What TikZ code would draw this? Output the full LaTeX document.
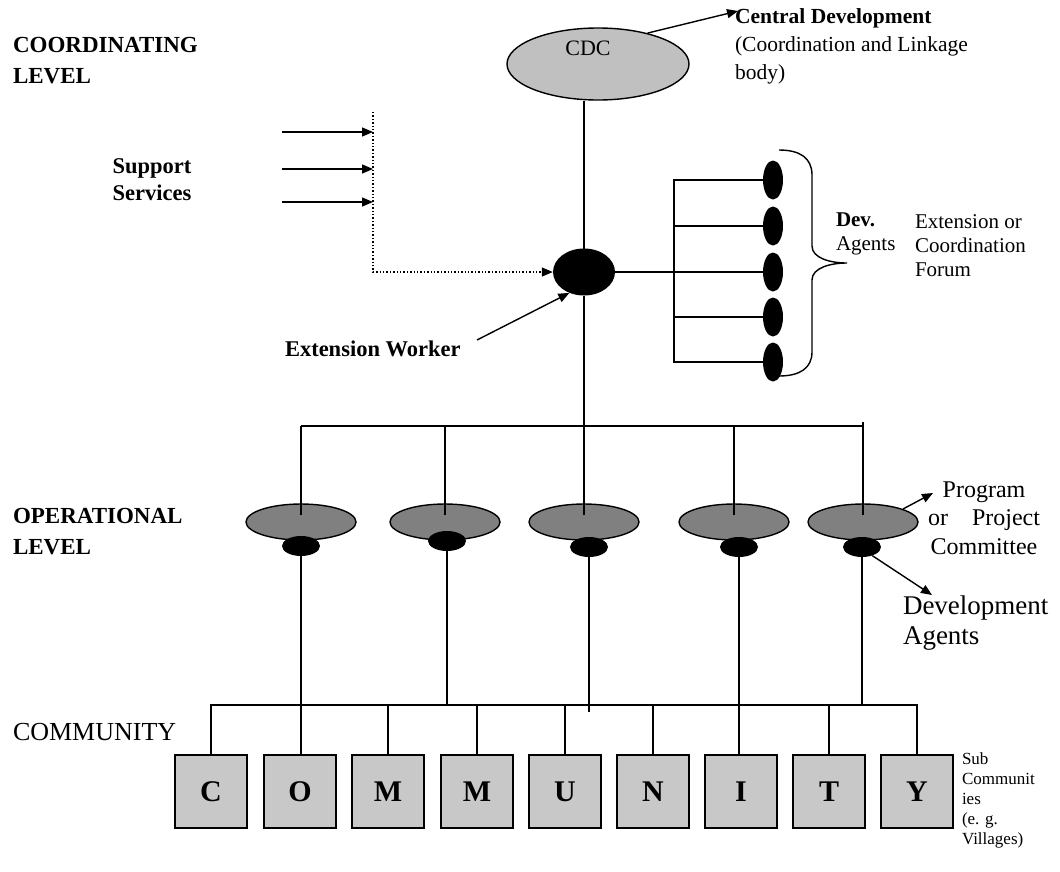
\documentclass[tikz,border=0pt]{standalone}
\usepackage{fontspec}
\setmainfont{Liberation Serif}
\usetikzlibrary{shapes.geometric,arrows.meta}
\definecolor{cdcgray}{RGB}{192,192,192}
\definecolor{opgray}{RGB}{128,128,128}
\definecolor{boxgray}{RGB}{200,200,200}
\newcommand{\fsz}[2]{\fontsize{#1}{#2}\selectfont}
\tikzset{
  ln/.style={line width=1.4pt},
  arr/.style={line width=1.4pt,-{Triangle[length=11pt,width=9pt]}},
  dotarr/.style={line width=1.4pt,dotted,-{Triangle[length=11pt,width=9pt]}},
  txt/.style={inner sep=0pt,outer sep=0pt,text=black},
  blackell/.style={ellipse,fill=black,inner sep=0pt},
  lvl/.style={txt,anchor=west,align=left,font=\bfseries\fsz{23}{31}},
}
\begin{document}
\begin{tikzpicture}[x=1pt,y=-1pt]
\path[use as bounding box] (0,0) rectangle (1060,871);
\fill[white] (0,0) rectangle (1060,871);

% ---------- coordinating level ----------
\node[lvl] (coordlvl) at (13,61) {COORDINATING\\LEVEL};

\node[ellipse,draw,ln,fill=cdcgray,minimum width=182pt,minimum height=72pt,inner sep=0pt] (cdc) at (598,64) {};
\node[txt,font=\fsz{22}{26}] (cdclbl) at (588,48) {CDC};
\node[txt,anchor=west,align=left,font=\fsz{21.5}{28}] (cdtext) at (735,46) {\textbf{Central Development}\\(Coordination and Linkage\\body)};
\coordinate (cdtip) at (738,11);
\draw[arr] (cdc.32) -- (cdtip);

% hub
\node[blackell,minimum width=62pt,minimum height=47pt] (hub) at (584,272) {};
\draw[ln] (hub.center) -- (hub.center |- cdc.south);

% support services
\node[txt,align=center,font=\bfseries\fsz{22.5}{27}] (support) at (152,180) {Support\\Services};
\foreach \i/\y in {1/132,2/169,3/202}{
  \coordinate (st\i) at (282,\y);
  \coordinate (sh\i) at (373,\y);
  \draw[arr] (st\i) -- (sh\i);
}
\coordinate (dtop) at (373,112);
\draw[dotarr] (dtop) |- (hub.west);

% extension worker
\node[txt,anchor=west,font=\bfseries\fsz{22.5}{27}] (ew) at (285,349) {Extension Worker};
\coordinate (ewtail) at (477,340);
\draw[arr] (ewtail) -- (hub.235);

% dev agents
\foreach \i/\y in {1/180,2/226,3/272,4/317,5/362}
  \node[blackell,minimum width=20pt,minimum height=39pt] (d\i) at (773,\y) {};
\coordinate (dv) at (674,0);
\draw[ln] (d1.west) -- (d1.west -| dv) -- (d5.west -| dv) -- (d5.west);
\draw[ln] (d2.west) -- (d2.west -| dv);
\draw[ln] (d4.west) -- (d4.west -| dv);
\draw[ln] (hub.east) -- (d3.west);
\draw[ln] (779,150) .. controls (800,150) and (812,158) .. (812,175) -- (812,246)
  .. controls (812,258) and (830,263) .. (847,263)
  .. controls (830,263) and (812,268) .. (812,280) -- (812,352)
  .. controls (812,368) and (800,376) .. (779,376);
\node[txt,anchor=west,align=left,font=\fsz{21}{24}] (devag) at (836,234) {\textbf{Dev.}\\Agents};
\node[txt,anchor=west,align=left,font=\fsz{21}{24}] (forum) at (915,246) {Extension or\\Coordination\\Forum};

% ---------- operational level ----------
\coordinate (ubar) at (0,426);
\node[lvl] (oplvl) at (13,532) {OPERATIONAL\\LEVEL};
\foreach \i/\x in {1/301,2/445,3/584,4/734,5/863}
  \node[ellipse,draw,ln,fill=opgray,minimum width=110pt,minimum height=36pt,inner sep=0pt] (g\i) at (\x,522) {};
\draw[ln] (hub) -- (hub |- ubar);
\draw[ln] (g1.north |- ubar) -- (g5.north |- ubar);
\foreach \i in {1,...,4}
  \draw[ln] ([yshift=-12pt]g\i.north) -- (g\i.north |- ubar);
\draw[ln] ([yshift=-12pt]g5.north) -- ([yshift=4pt]g5.north |- ubar);
\foreach \i/\x/\y in {1/301/546,2/447/541,3/589/547,4/739/547,5/862/547}
  \node[blackell,minimum width=38pt,minimum height=20pt] (s\i) at (\x,\y) {};

\node[txt,align=center,font=\fsz{24}{28.5}] (prog) at (984,518) {Program\\or\quad Project\\Committee};
\coordinate (progtip) at (933,493);
\draw[arr] (g5.18) -- (progtip);
\node[txt,anchor=west,align=left,font=\fsz{27}{30}] (devagents) at (903,623) {Development\\Agents};
\coordinate (datip) at (932,595);
\draw[arr] (s5.-40) -- (datip);

% ---------- community ----------
\coordinate (lbar) at (0,705);
\node[txt,anchor=west,font=\fsz{26}{30}] (comm) at (13,732) {COMMUNITY};
\foreach \n/\x/\l in {c1/211/C,c2/300/O,c3/388/M,c4/477/M,c5/565/U,c6/653/N,c7/741/I,c8/829/T,c9/917/Y}
  \node[draw,ln,fill=boxgray,minimum width=72pt,minimum height=73pt,inner sep=0pt,font=\bfseries\fsz{30}{30}] (\n) at (\x,791.5) {\l};
\draw[ln] (c1.north) -- (c1.north |- lbar) -- (c9.north |- lbar) -- (c9.north);
\foreach \n in {c3,c4,c5,c6,c8}
  \draw[ln] (\n.north) -- (\n.north |- lbar);
\draw[ln] (s1.south) -- (s1.south |- c2.north);
\draw[ln] (s4.south) -- (s4.south |- c7.north);
\draw[ln] (s2.south) -- (s2.south |- lbar);
\draw[ln] (s3.south) -- ([yshift=-7pt]s3.south |- lbar);
\draw[ln] (s5.south) -- (s5.south |- lbar);
\node[txt,anchor=west,align=left,font=\fsz{17}{20}] (subc) at (962,800) {Sub\\Communit\\ies\\(e. g.\\Villages)};
\end{tikzpicture}
\end{document}
